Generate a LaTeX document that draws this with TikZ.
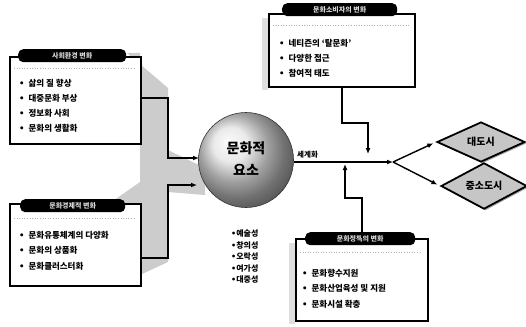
\documentclass[tikz,border=0pt]{standalone}
\usepackage{fontspec}
\setmainfont{Noto Sans CJK KR}
\newfontfamily\lat{DejaVu Sans}
\usetikzlibrary{shapes.geometric,arrows.meta,shadows,calc}
\begin{document}
\begin{tikzpicture}[x=1pt,y=-1pt,
  box/.style={draw=black, line width=1.6pt, fill=white, inner sep=0pt, anchor=north west},
  pill/.style={fill=black, rounded corners=5pt, text=gray!30, font=\fontsize{7}{7}\selectfont\bfseries, minimum height=13pt, inner sep=0pt, anchor=north west},
  item/.style={anchor=west, inner sep=0pt, font=\fontsize{8.5}{10}\selectfont\bfseries},
  small/.style={anchor=west, inner sep=0pt, font=\fontsize{8}{9}\selectfont\bfseries},
  conn/.style={line width=1.4pt, -{Latex[length=6pt,width=5pt]}},
  dia/.style={diamond, draw=black, line width=1.8pt, fill=gray!45, inner sep=0pt, font=\fontsize{10}{10}\selectfont\bfseries, drop shadow={shadow xshift=1.5pt, shadow yshift=-1.5pt, fill=black!70}},
  dots/.style={gray!60, dotted, line width=0.6pt}
]
\useasboundingbox (0,0) rectangle (526,326);

% gray extrusion behind left boxes
\fill[gray!40] (127,53) -- (168,88) -- (168,150) -- (205,168) -- (205,195) -- (168,192) -- (168,262) -- (140,275) -- (110,203) -- (140,182) -- (140,53) -- cycle;
\fill[gray!25] (262,18) rectangle (268,90);
\fill[gray!25] (289,243) rectangle (295,324);

% box 1
\node[box, minimum width=131pt, minimum height=87pt] (box1) at (9,56) {};
\node[pill, minimum width=108pt] (t1) at (18,49) {사회환경 변화};
\draw[dots] (14,68) -- (135,68);
\foreach \t [count=\i] in {삶의 질 향상, 대중문화 부상, 정보화 사회, 문화의 생활화}
  \node[item] (b1i\i) at (19,68+15*\i) {{\lat •}\hspace{4pt}\t};

% box 2
\node[box, minimum width=131pt, minimum height=82pt] (box2) at (9,203) {};
\node[pill, minimum width=105pt] (t2) at (20,199) {문화경제적 변화};
\draw[dots] (14,218) -- (135,218);
\foreach \t [count=\i] in {문화유통체계의 다양화, 문화의 상품화, 문화클러스터화}
  \node[item] (b2i\i) at (19,219.5+15.5*\i) {{\lat •}\hspace{4pt}\t};

% box 3
\node[box, minimum width=146pt, minimum height=73pt] (box3) at (268,13) {};
\node[pill, minimum width=115pt] (t3) at (282,3) {문화소비자의 변화};
\draw[dots] (273,25) -- (409,25);
\foreach \t [count=\i] in {네티즌의 ‘탈문화’, 다양한 접근, 참여적 태도}
  \node[item] (b3i\i) at (279,28+15*\i) {{\lat •}\hspace{4pt}\t};

% box 4
\node[box, minimum width=132pt, minimum height=82pt] (box4) at (295,238) {};
\node[pill, minimum width=110pt] (t4) at (305,232) {문화정책의 변화};
\draw[dots] (300,252) -- (422,252);
\foreach \t [count=\i] in {문화향수지원, 문화산업육성 및 지원, 문화시설 확충}
  \node[item] (b4i\i) at (302,257.5+15.5*\i) {{\lat •}\hspace{4pt}\t};

% sphere
\node[circle, minimum size=95pt, ball color=gray!22, draw=black!80, line width=0.6pt] (circ) at (246,160) {};
\node[align=center, font=\fontsize{14}{22}\selectfont\bfseries] (ctext) at (246,159) {문화적\\요소};

\foreach \t [count=\i] in {예술성, 창의성, 오락성, 여가성, 대중성}
  \node[small] (ci\i) at (231,222.5+11.5*\i) {{\lat •}\t};

% diamonds
\node[dia, minimum width=88pt, minimum height=40pt] (d1) at (481,142) {대도시};
\node[dia, minimum width=86pt, minimum height=42pt] (d2) at (484,186) {중소도시};

% connectors
\coordinate (c1a) at (168,98);
\coordinate (c1b) at (199,158);
\draw[conn] (box1.east |- c1a) -- (c1a) |- (c1b);
\coordinate (c2a) at (168,258);
\coordinate (c2b) at (197,185);
\draw[conn] (box2.east |- c2a) -- (c2a) |- (c2b);
\coordinate (c3a) at (368,123);
\coordinate (c3b) at (368,154);
\draw[conn] (box3.south) |- (c3a) -- (c3b);
\coordinate (c4a) at (345,198);
\coordinate (c4b) at (345,164);
\draw[conn] (box4.north) |- (c4a) -- (c4b);
\coordinate (br) at (393,162);
\draw[conn] (circ.east |- br) -- (br);
\node[small, font=\fontsize{7.5}{8}\selectfont\bfseries] (lbl) at (297,155) {세계화};
\draw[conn, shorten >=3pt] (br) -- (d1.west);
\draw[conn, shorten >=3pt] (br) -- (d2.west);
\end{tikzpicture}
\end{document}
